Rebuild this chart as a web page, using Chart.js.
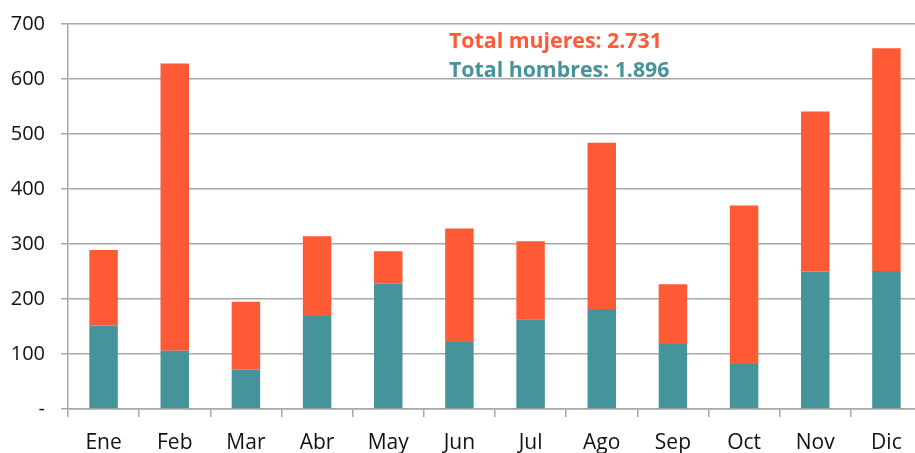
<!DOCTYPE html>
<html>
<head>
<meta charset="utf-8">
<script src="https://cdn.jsdelivr.net/npm/chart.js@4/dist/chart.umd.min.js"></script>
<style>
    html, body { margin: 0; padding: 0; background: #fff; overflow: hidden; }
    #wrap { width: 922px; height: 453px; position: relative; }
</style>
</head>
<body>
<div id="wrap"><canvas id="graficoMeses"></canvas></div>
<script>
const meses = ["Ene", "Feb", "Mar", "Abr", "May", "Jun", "Jul", "Ago", "Sep", "Oct", "Nov", "Dic"];
const hombres = [152, 106, 72, 169, 228, 122, 163, 182, 118, 82, 250, 251];
const mujeres = [137, 522, 123, 145, 59, 206, 142, 302, 109, 288, 291, 405];
const totalMujeres = "Total mujeres: 2.731";
const totalHombres = "Total hombres: 1.896";

const NARANJA = "#FF5A36";
const VERDE = "#45939B";
const GRIS = "#a8a8a8";

// texto de totales arriba, ajustado al ancho del original
const totalesPlugin = {
    id: "totales",
    afterDraw(chart) {
        const ctx = chart.ctx;
        ctx.save();
        ctx.font = "bold 20px 'Open Sans'";
        const w = ctx.measureText(totalMujeres).width;
        const size = 20 * 213 / w;
        ctx.font = "bold " + size.toFixed(2) + "px 'Open Sans'";
        ctx.textAlign = "left";
        ctx.textBaseline = "alphabetic";
        ctx.fillStyle = NARANJA;
        ctx.fillText(totalMujeres, 449, 48);
        ctx.fillStyle = VERDE;
        ctx.fillText(totalHombres, 449, 77);
        ctx.restore();
    }
};

const ctx = document.getElementById("graficoMeses").getContext("2d");
new Chart(ctx, {
    type: "bar",
    data: {
        labels: meses,
        datasets: [
            { label: "Hombres", data: hombres, backgroundColor: VERDE, barPercentage: 0.4, categoryPercentage: 1 },
            { label: "Mujeres", data: mujeres, backgroundColor: NARANJA, barPercentage: 0.4, categoryPercentage: 1 }
        ]
    },
    options: {
        responsive: true,
        maintainAspectRatio: false,
        animation: false,
        layout: { padding: { top: 24, right: 0, left: 0, bottom: 0 } },
        plugins: {
            legend: { display: false },
            tooltip: { enabled: false }
        },
        scales: {
            x: {
                stacked: true,
                grid: {
                    offset: true,
                    drawOnChartArea: false,
                    tickLength: 8,
                    color: GRIS,
                    lineWidth: 1.5
                },
                border: { color: GRIS, width: 1.5 },
                ticks: {
                    color: "#111",
                    padding: 13,
                    font: { family: "Open Sans", size: 21 }
                },
                afterFit(scale) { scale.height = 44; }
            },
            y: {
                stacked: true,
                min: 0,
                max: 700,
                grid: {
                    tickLength: 7,
                    color: GRIS,
                    lineWidth: 1.5
                },
                border: { color: GRIS, width: 1.5 },
                ticks: {
                    stepSize: 100,
                    color: "#111",
                    padding: 16,
                    font: { family: "Open Sans", size: 20 },
                    callback: v => v === 0 ? "-" : v
                },
                afterFit(scale) {
                    scale.width = 68;
                    scale.paddingTop = 0;
                    scale.paddingBottom = 0;
                }
            }
        }
    },
    plugins: [totalesPlugin]
});
</script>
</body>
</html>
